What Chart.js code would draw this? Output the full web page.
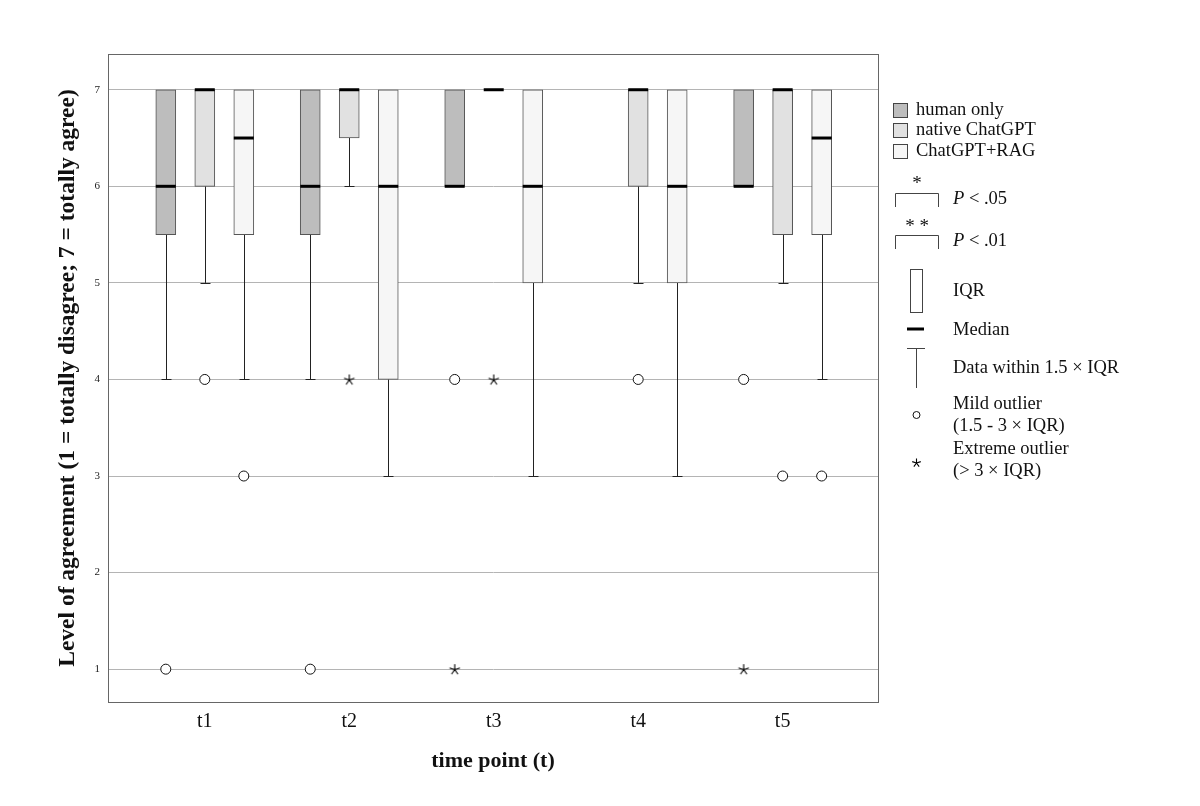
<!DOCTYPE html>
<html>
<head>
<meta charset="utf-8">
<script src="https://cdn.jsdelivr.net/npm/chart.js@4"></script>
<style>
  body { margin: 0; background: #fff; }
  canvas { display: block; }
</style>
</head>
<body>
<canvas id="boxChart" width="1200" height="806"></canvas>
<script>
const timePoints = ["t1", "t2", "t3", "t4", "t5"];
const groupNames = ["human only", "native ChatGPT", "ChatGPT+RAG"];
const yTicks = [1, 2, 3, 4, 5, 6, 7];

// rows: human only, native ChatGPT, ChatGPT+RAG ; columns: t1..t5
const whiskerLow = [
  [4, 4, 6, null, 6],
  [5, 6, 7, 5, 5],
  [4, 3, 3, 3, 4],
];
const q1 = [
  [5.5, 5.5, 6, null, 6],
  [6, 6.5, 7, 6, 5.5],
  [5.5, 4, 5, 5, 5.5],
];
const median = [
  [6, 6, 6, null, 6],
  [7, 7, 7, 7, 7],
  [6.5, 6, 6, 6, 6.5],
];
const q3 = [
  [7, 7, 7, null, 7],
  [7, 7, 7, 7, 7],
  [7, 7, 7, 7, 7],
];
const whiskerHigh = [
  [7, 7, 7, null, 7],
  [7, 7, 7, 7, 7],
  [7, 7, 7, 7, 7],
];
// [time index, group index, value]
const mildOutliers = [
  [0, 0, 1], [0, 1, 4], [0, 2, 3],
  [1, 0, 1],
  [2, 0, 4],
  [3, 1, 4],
  [4, 0, 4], [4, 1, 3], [4, 2, 3],
];
const extremeOutliers = [
  [1, 1, 4],
  [2, 0, 1], [2, 1, 4],
  [4, 0, 1],
];

const boxColors = ["#bdbdbd", "#e1e1e1", "#f6f6f6"];
const groupOffset = [-0.27, 0, 0.27];
const FONT = '"Liberation Serif", "Times New Roman", serif';
const BOX_W = 20;

function xPos(t, g) {
  return t + 1 + groupOffset[g];
}

function drawAsterisk(ctx, x, y, r) {
  ctx.save();
  ctx.strokeStyle = "#000";
  ctx.lineWidth = 1.1;
  ctx.beginPath();
  for (let k = 0; k < 5; k++) {
    const a = -Math.PI / 2 + (k * 2 * Math.PI) / 5;
    ctx.moveTo(x, y);
    ctx.lineTo(x + r * Math.cos(a), y + r * Math.sin(a));
  }
  ctx.stroke();
  ctx.restore();
}

const starImg = document.createElement("canvas");
starImg.width = 14;
starImg.height = 14;
drawAsterisk(starImg.getContext("2d"), 7, 7.5, 5.5);

const boxDatasets = groupNames.map((name, g) => ({
  type: "bar",
  label: name,
  data: timePoints
    .map((_, t) => (q1[g][t] == null ? null : { x: xPos(t, g), y: [q1[g][t], q3[g][t]] }))
    .filter((d) => d),
  backgroundColor: boxColors[g],
  borderColor: "#555",
  borderWidth: 1,
  borderSkipped: false,
  barThickness: BOX_W,
  grouped: false,
  order: 2,
}));

const mildDataset = {
  type: "scatter",
  label: "mild",
  data: mildOutliers.map(([t, g, v]) => ({ x: xPos(t, g), y: v })),
  pointStyle: "circle",
  pointRadius: 5,
  backgroundColor: "#fff",
  borderColor: "#111",
  borderWidth: 1,
  order: 1,
};
const extremeDataset = {
  type: "scatter",
  label: "extreme",
  data: extremeOutliers.map(([t, g, v]) => ({ x: xPos(t, g), y: v })),
  pointStyle: starImg,
  order: 1,
};

const boxPlotParts = {
  id: "boxPlotParts",
  beforeDatasetsDraw(chart) {
    const { ctx, scales: { x, y } } = chart;
    ctx.save();
    ctx.strokeStyle = "#222";
    ctx.lineWidth = 1;
    groupNames.forEach((_, g) => {
      timePoints.forEach((_, t) => {
        if (q1[g][t] == null) return;
        const cx = Math.round(x.getPixelForValue(xPos(t, g))) + 0.5;
        const pairs = [
          [whiskerLow[g][t], q1[g][t]],
          [q3[g][t], whiskerHigh[g][t]],
        ];
        pairs.forEach(([a, b]) => {
          if (a === b) return;
          const ya = y.getPixelForValue(a);
          const yb = y.getPixelForValue(b);
          const end = a < q1[g][t] ? ya : yb;
          ctx.beginPath();
          ctx.moveTo(cx, ya);
          ctx.lineTo(cx, yb);
          const ye = Math.round(end) + 0.5;
          ctx.moveTo(cx - 5, ye);
          ctx.lineTo(cx + 5, ye);
          ctx.stroke();
        });
      });
    });
    ctx.restore();
  },
  afterDatasetsDraw(chart) {
    const { ctx, scales: { x, y } } = chart;
    ctx.save();
    ctx.strokeStyle = "#000";
    ctx.lineWidth = 3;
    groupNames.forEach((_, g) => {
      timePoints.forEach((_, t) => {
        if (median[g][t] == null) return;
        const cx = x.getPixelForValue(xPos(t, g));
        const my = y.getPixelForValue(median[g][t]);
        ctx.beginPath();
        ctx.moveTo(cx - BOX_W / 2, my);
        ctx.lineTo(cx + BOX_W / 2, my);
        ctx.stroke();
      });
    });
    ctx.restore();
  },
  afterDraw(chart) {
    const { ctx, chartArea: a } = chart;
    ctx.save();
    // frame
    ctx.strokeStyle = "#666";
    ctx.lineWidth = 1;
    ctx.strokeRect(Math.round(a.left) + 0.5, Math.round(a.top) + 0.5,
      Math.round(a.right - a.left), Math.round(a.bottom - a.top));

    // legend
    const LF = "18.5px " + FONT;
    ctx.font = LF;
    ctx.fillStyle = "#111";
    ctx.textBaseline = "middle";
    const swY = [103, 123, 144];
    groupNames.forEach((name, g) => {
      ctx.fillStyle = boxColors[g];
      ctx.fillRect(893.5, swY[g] + 0.5, 14, 14);
      ctx.strokeStyle = "#444";
      ctx.strokeRect(893.5, swY[g] + 0.5, 14, 14);
      ctx.fillStyle = "#111";
      ctx.fillText(name, 916, swY[g] + 7);
    });

    const pRows = [["*", 182, 193, "P", " < .05"], ["**", 225, 235, "P", " < .01"]];
    pRows.forEach(([stars, sy, by, p, rest]) => {
      ctx.textAlign = "center";
      ctx.font = "19px " + FONT;
      ctx.fillText(stars.split("").join(" "), 917, sy + 2);
      ctx.textAlign = "left";
      ctx.strokeStyle = "#444";
      ctx.beginPath();
      ctx.moveTo(895.5, by + 14);
      ctx.lineTo(895.5, by + 0.5);
      ctx.lineTo(938.5, by + 0.5);
      ctx.lineTo(938.5, by + 14);
      ctx.stroke();
      ctx.font = "italic " + LF;
      ctx.fillText(p, 953, by + 6);
      const pw = ctx.measureText(p).width;
      ctx.font = LF;
      ctx.fillText(rest, 953 + pw, by + 6);
    });

    ctx.font = LF;
    // IQR
    ctx.strokeStyle = "#444";
    ctx.strokeRect(910.5, 269.5, 12, 43);
    ctx.fillText("IQR", 953, 291);
    // median
    ctx.strokeStyle = "#000";
    ctx.lineWidth = 3;
    ctx.beginPath();
    ctx.moveTo(907, 329);
    ctx.lineTo(924, 329);
    ctx.stroke();
    ctx.fillText("Median", 953, 330);
    // whisker
    ctx.lineWidth = 1;
    ctx.strokeStyle = "#444";
    ctx.beginPath();
    ctx.moveTo(907, 348.5);
    ctx.lineTo(925, 348.5);
    ctx.moveTo(916.5, 348.5);
    ctx.lineTo(916.5, 388);
    ctx.stroke();
    ctx.fillText("Data within 1.5 \u00d7 IQR", 953, 368);
    // mild
    ctx.strokeStyle = "#111";
    ctx.beginPath();
    ctx.arc(916.5, 415, 3.5, 0, Math.PI * 2);
    ctx.stroke();
    ctx.fillText("Mild outlier", 953, 404);
    ctx.fillText("(1.5 - 3 \u00d7 IQR)", 953, 426);
    // extreme
    drawAsterisk(ctx, 916.5, 463, 4.5);
    ctx.fillText("Extreme outlier", 953, 449);
    ctx.fillText("(> 3 \u00d7 IQR)", 953, 471);
    ctx.restore();
  },
};

const ctx = document.getElementById("boxChart").getContext("2d");
// eslint-disable-next-line no-undef
const boxChart = new Chart(ctx, {
  data: {
    datasets: [...boxDatasets, mildDataset, extremeDataset],
  },
  options: {
    responsive: false,
    animation: false,
    layout: {
      padding: { top: 54, right: 322, left: 0, bottom: 0 },
    },
    plugins: {
      legend: { display: false },
      tooltip: { enabled: false },
    },
    scales: {
      x: {
        type: "linear",
        min: 0.33,
        max: 5.66,
        offset: false,
        afterFit: (scale) => { scale.height = 104; },
        afterBuildTicks: (scale) => {
          scale.ticks = timePoints.map((_, i) => ({ value: i + 1 }));
        },
        ticks: {
          callback: (v) => timePoints[v - 1],
          font: { family: FONT, size: 20 },
          color: "#111",
          padding: 8,
          maxRotation: 0,
        },
        grid: { display: false, drawTicks: false, offset: false },
        border: { display: true, color: "#666" },
        title: {
          display: true,
          text: "time point (t)",
          font: { family: FONT, size: 22, weight: "bold" },
          color: "#111",
          padding: { top: 0, bottom: 31 },
        },
      },
      y: {
        type: "linear",
        min: 0.66,
        max: 7.37,
        afterFit: (scale) => { scale.width = 108; },
        afterBuildTicks: (scale) => {
          scale.ticks = yTicks.map((v) => ({ value: v }));
        },
        ticks: {
          font: { family: FONT, size: 11 },
          color: "#222",
          padding: 8,
        },
        grid: { color: "#b4b4b4", lineWidth: 1, drawTicks: false },
        border: { display: true, color: "#666" },
        title: {
          display: true,
          text: "Level of agreement (1 = totally disagree; 7 = totally agree)",
          font: { family: FONT, size: 23.5, weight: "bold" },
          color: "#111",
          padding: { top: 54, bottom: 0 },
        },
      },
    },
  },
  plugins: [boxPlotParts],
});
</script>
</body>
</html>
